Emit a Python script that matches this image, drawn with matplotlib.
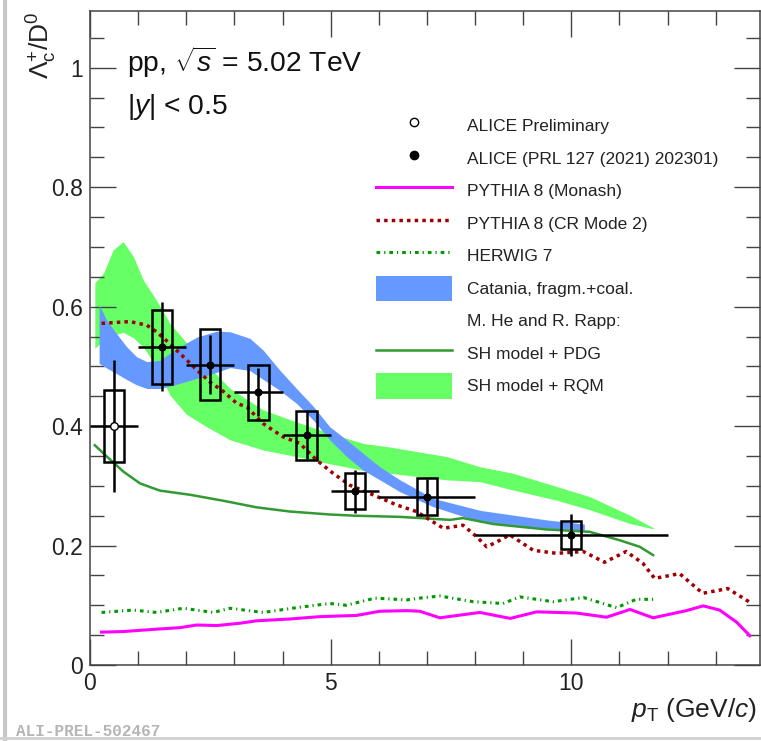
import numpy as np
import matplotlib
matplotlib.use("Agg")
import matplotlib.pyplot as plt
from matplotlib.lines import Line2D
from matplotlib.patches import Patch
from matplotlib.ticker import MultipleLocator, FuncFormatter

plt.rcParams['font.family'] = ['Liberation Sans', 'DejaVu Sans']
plt.rcParams['mathtext.fontset'] = 'custom'
plt.rcParams['mathtext.rm'] = 'Liberation Sans'
plt.rcParams['mathtext.it'] = 'Liberation Sans:italic'
plt.rcParams['mathtext.bf'] = 'Liberation Sans:bold'

# --- ALICE data ---
prel_pt = [0.5]
prel_y = [0.400]
prel_stat = [0.110]
prel_sys = [0.060]
prel_xerr = [0.5]

prl_pt = [1.5, 2.5, 3.5, 4.5, 5.5, 7.0, 10.0]
prl_y = [0.533, 0.503, 0.457, 0.385, 0.291, 0.282, 0.218]
prl_stat = [0.075, 0.050, 0.040, 0.040, 0.036, 0.029, 0.035]
prl_sys = [0.062, 0.059, 0.046, 0.041, 0.030, 0.031, 0.023]
prl_xerr = [0.5, 0.5, 0.5, 0.5, 0.5, 1.0, 2.0]

# --- PYTHIA 8 Monash ---
monash_x = [0.24, 0.69, 1.38, 1.87, 2.22, 2.63, 3.12, 3.46, 4.15, 4.78, 5.54, 6.02,
            6.58, 6.85, 7.27, 8.10, 8.73, 9.28, 10.11, 10.73, 11.22, 11.70, 12.39,
            12.74, 13.08, 13.43, 13.71]
monash_y = [0.055, 0.056, 0.060, 0.0625, 0.067, 0.066, 0.070, 0.074, 0.077, 0.081, 0.083, 0.090,
            0.091, 0.090, 0.079, 0.088, 0.078, 0.089, 0.087, 0.080, 0.093, 0.079, 0.091,
            0.099, 0.092, 0.072, 0.049]

# --- PYTHIA 8 CR Mode 2 ---
cr_x = [0.24, 0.83, 1.18, 1.38, 1.66, 1.94, 2.22, 2.49, 2.77, 3.05, 3.26, 3.60, 4.01,
        4.36, 4.71, 5.05, 5.40, 5.82, 6.37, 6.78, 7.06, 7.34, 7.75, 8.03, 8.24, 8.45,
        8.72, 9.21, 9.69, 10.25, 10.69, 11.14, 11.49, 11.73, 12.25, 12.73, 13.25, 13.71]
cr_y = [0.572, 0.575, 0.569, 0.558, 0.538, 0.516, 0.494, 0.474, 0.458, 0.438, 0.432, 0.404, 0.382,
        0.371, 0.343, 0.321, 0.301, 0.287, 0.268, 0.257, 0.243, 0.229, 0.234, 0.215, 0.198, 0.206,
        0.218, 0.192, 0.187, 0.190, 0.172, 0.190, 0.170, 0.145, 0.153, 0.120, 0.128, 0.105]

# --- HERWIG 7 ---
herwig_x = [0.24, 0.90, 1.38, 1.94, 2.56, 2.91, 3.60, 4.29, 4.98, 5.33, 5.92, 6.58,
            6.85, 7.27, 7.96, 8.58, 8.93, 9.62, 10.25, 10.94, 11.35, 11.70]
herwig_y = [0.088, 0.092, 0.088, 0.095, 0.088, 0.095, 0.088, 0.096, 0.103, 0.100, 0.112, 0.109,
            0.112, 0.1155, 0.106, 0.103, 0.114, 0.106, 0.113, 0.096, 0.110, 0.110]

# --- He & Rapp, SH model + PDG ---
pdg_x = [0.10, 0.35, 0.69, 1.04, 1.45, 2.08, 2.77, 3.46, 4.15, 4.98, 5.50, 6.44, 7.48,
         7.75, 8.38, 9.48, 10.38, 11.00, 11.42, 11.70]
pdg_y = [0.368, 0.349, 0.324, 0.304, 0.292, 0.285, 0.275, 0.264, 0.257, 0.252, 0.250, 0.248, 0.243,
         0.246, 0.236, 0.227, 0.223, 0.209, 0.198, 0.184]

# --- He & Rapp, SH model + RQM band ---
rqm_x = [0.10, 0.28, 0.48, 0.69, 0.90, 1.11, 1.38, 1.66, 2.00, 2.40, 2.91, 3.60, 4.29,
         4.98, 5.68, 6.23, 7.41, 8.10, 8.79, 9.69, 10.38, 11.21, 11.70]
rqm_hi = [0.640, 0.656, 0.695, 0.709, 0.684, 0.644, 0.611, 0.572, 0.540, 0.505, 0.463, 0.427, 0.407,
          0.388, 0.371, 0.365, 0.349, 0.332, 0.321, 0.299, 0.282, 0.251, 0.230]
rqm_lo = [0.530, 0.544, 0.552, 0.557, 0.548, 0.532, 0.499, 0.452, 0.420, 0.400, 0.377, 0.360, 0.349,
          0.337, 0.326, 0.321, 0.310, 0.307, 0.293, 0.276, 0.260, 0.237, 0.228]

# --- Catania band ---
cat_x = [0.19, 0.35, 0.55, 0.76, 0.97, 1.18, 1.45, 1.80, 2.22, 2.63, 2.91, 3.32, 3.60,
         3.94, 4.29, 4.64, 4.98, 5.33, 5.68, 6.02, 6.44, 7.13, 8.10, 8.79, 9.48, 10.27]
cat_hi = [0.603, 0.577, 0.555, 0.533, 0.516, 0.508, 0.510, 0.530, 0.549, 0.559, 0.558, 0.547, 0.527,
          0.494, 0.463, 0.433, 0.399, 0.377, 0.354, 0.332, 0.310, 0.279, 0.259, 0.251, 0.243, 0.236]
cat_lo = [0.505, 0.497, 0.488, 0.478, 0.469, 0.463, 0.463, 0.470, 0.480, 0.490, 0.498, 0.493, 0.478,
          0.460, 0.438, 0.410, 0.377, 0.349, 0.326, 0.310, 0.290, 0.265, 0.240, 0.233, 0.229, 0.226]

legend_labels = ['ALICE Preliminary', 'ALICE (PRL 127 (2021) 202301)', 'PYTHIA 8 (Monash)',
                 'PYTHIA 8 (CR Mode 2)', 'HERWIG 7', 'Catania, fragm.+coal.',
                 'M. He and R. Rapp:', 'SH model + PDG', 'SH model + RQM']

c_green = '#66ff66'
c_blue = '#6699ff'
c_mag = '#ff00ff'
c_red = '#a00000'
c_herwig = '#009900'
c_pdg = '#339933'

W, H = 761, 741
fig = plt.figure(figsize=(W / 100, H / 100), dpi=100)
ax = fig.add_axes([90 / W, 1 - 665 / H, (760 - 90) / W, (665 - 11) / H])

ax.fill_between(rqm_x, rqm_lo, rqm_hi, color=c_green, lw=0, zorder=1)
ax.fill_between(cat_x, cat_lo, cat_hi, color=c_blue, lw=0, zorder=2)

ax.plot(pdg_x, pdg_y, color=c_pdg, lw=1.8, zorder=3)
ax.plot(monash_x, monash_y, color=c_mag, lw=2.2, zorder=3)
ax.plot(cr_x, cr_y, color=c_red, lw=2.5, ls=(0, (1.0, 1.2)), zorder=3)
ax.plot(herwig_x, herwig_y, color=c_herwig, lw=2.2, ls=(0, (1.2, 1.3, 0.4, 1.3)), zorder=3)

# systematic boxes
box_w = 0.42
for xs, ys, ss in [(prel_pt, prel_y, prel_sys), (prl_pt, prl_y, prl_sys)]:
    ys = np.array(ys)
    ss = np.array(ss)
    ax.bar(xs, 2 * ss, bottom=ys - ss, width=box_w, fill=False,
           edgecolor='black', linewidth=1.8, zorder=4)

ax.errorbar(prl_pt, prl_y, xerr=prl_xerr, yerr=prl_stat, fmt='o', color='black',
            ms=4.8, elinewidth=1.8, capsize=0, zorder=5)
ax.errorbar(prel_pt, prel_y, xerr=prel_xerr, yerr=prel_stat, fmt='o', color='black',
            mfc='white', mec='black', mew=1.0, ms=5.5, elinewidth=1.8, capsize=0, zorder=5)

ax.set_xlim(0, 13.92)
ax.set_ylim(0, 1.095)

ax.xaxis.set_major_locator(MultipleLocator(5))
ax.xaxis.set_minor_locator(MultipleLocator(1))
ax.yaxis.set_major_locator(MultipleLocator(0.2))
ax.yaxis.set_minor_locator(MultipleLocator(0.05))
ax.yaxis.set_major_formatter(FuncFormatter(lambda v, p: '%g' % round(v, 2)))
ax.tick_params(which='both', direction='in', top=True, right=True, color='#444444',
               labelsize=16.5, labelcolor='#222222')
ax.tick_params(which='major', length=19, width=1.0)
ax.tick_params(which='minor', length=10, width=1.0)
ax.tick_params(axis='x', pad=5)
ax.tick_params(axis='y', pad=5)
for s in ax.spines.values():
    s.set_color('#444444')
    s.set_linewidth(1.1)

handles = [
    Line2D([], [], marker='o', ls='none', mfc='white', mec='black', mew=1.0, ms=6),
    Line2D([], [], marker='o', ls='none', color='black', ms=6),
    Line2D([], [], color=c_mag, lw=2.2),
    Line2D([], [], color=c_red, lw=2.5, ls=(0, (1.0, 1.2))),
    Line2D([], [], color=c_herwig, lw=2.2, ls=(0, (1.2, 1.3, 0.4, 1.3))),
    Patch(facecolor=c_blue, edgecolor='none'),
    Line2D([], [], ls='none'),
    Line2D([], [], color=c_pdg, lw=1.8),
    Patch(facecolor=c_green, edgecolor='none'),
]
leg = ax.legend(handles, legend_labels, loc='upper left',
                bbox_to_anchor=(376 / W, 1 - 113 / H), bbox_transform=fig.transFigure,
                frameon=False, fontsize=12.5, handlelength=4.37, handleheight=1.86,
                handletextpad=0.86, labelspacing=0.42, borderpad=0, borderaxespad=0,
                numpoints=1)
for t in leg.get_texts():
    t.set_color('#222222')

fig.text(127 / W, 1 - 71.7 / H, r'pp, $\sqrt{s}$ = 5.02 TeV', fontsize=20.3,
         ha='left', va='baseline', color='#111111')
fig.text(127 / W, 1 - 114 / H, r'|$y$| < 0.5', fontsize=20.3,
         ha='left', va='baseline', color='#111111')

fig.text(42 / W, 1 - 11 / H, r'$\Lambda_{\rm c}^{+}/{\rm D}^{0}$', fontsize=19,
         rotation=90, ha='center', va='top', color='#222222')
fig.text(757 / W, 1 - 717 / H, r'$p_{\rm T}$ (GeV/$c$)', fontsize=19,
         ha='right', va='baseline', color='#222222')

fig.text(16 / W, 1 - 732 / H, 'ALI-PREL-502467', fontsize=11.5, family='Liberation Mono',
         weight='bold', color='#b5b5b5', ha='left', va='center')

# image border shadow
fig.add_artist(Line2D([5 / W, 5 / W], [0, 1], color='#c8c8c8', lw=3))
fig.add_artist(Line2D([0, 1], [1 - 738 / H, 1 - 738 / H], color='#d0d0d0', lw=2))

fig.savefig('out.png', dpi=100)
